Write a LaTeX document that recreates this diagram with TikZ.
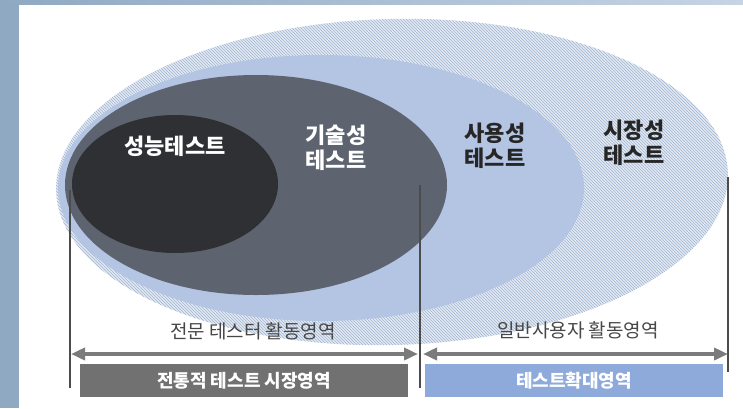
\documentclass[tikz,border=0pt]{standalone}
\usepackage{xcolor}
\usepackage{fontspec}
\newfontfamily\krfont{Noto Sans CJK KR}
\usepackage{tikz}
\usetikzlibrary{shapes.geometric, patterns, arrows.meta}

\definecolor{framedark}{HTML}{8FA9C3}
\definecolor{framelight}{HTML}{C6D4E4}
\definecolor{hatchbg}{HTML}{E2E9F3}
\definecolor{hatchline}{HTML}{A2B5D2}
\definecolor{usablue}{HTML}{B4C5E4}
\definecolor{techgray}{HTML}{5E6370}
\definecolor{perfblack}{HTML}{2F3034}
\definecolor{spangray}{HTML}{7B7B7B}
\definecolor{boxgray}{HTML}{717171}
\definecolor{boxblue}{HTML}{8EAADB}

\begin{document}
\begin{tikzpicture}[x = 1pt, y = -1pt]
            \tikzstyle{zone} = [ellipse, inner sep = 0pt, draw = none];
            \tikzstyle{inlabel} = [font = \krfont\bfseries\fontsize{22}{25}\selectfont, align = center, text = white];
            \tikzstyle{outlabel} = [inlabel, text = black!85];
            \tikzstyle{arealabel} = [font = \krfont\fontsize{19}{20}\selectfont, text = black!72];
            \tikzstyle{areabox} = [minimum height = 33pt, inner sep = 0pt, text = white, font = \krfont\bfseries\fontsize{18}{18}\selectfont];
            \tikzstyle{divider} = [draw = black!70, line width = 1.1pt];
            \tikzstyle{span} = [draw = spangray, line width = 3.5pt, {Triangle[length = 14pt, width = 12pt]}-{Triangle[length = 14pt, width = 12pt]}];

            \useasboundingbox (0, 0) rectangle (743, 408);
            \fill [framedark] (0, 0) rectangle (19, 408);
            \shade [left color = framedark, right color = framelight] (0, 0) rectangle (743, 4);

            \node [zone, minimum width = 672pt, minimum height = 326pt, rotate = 1.5,
                   preaction = {fill = hatchbg}, pattern = north west lines, pattern color = hatchline] (E4) at (392, 182) {};
            \node [zone, fill = usablue, minimum width = 526pt, minimum height = 266pt] (E3) at (321, 188) {};
            \node [zone, fill = techgray, minimum width = 382pt, minimum height = 220pt] (E2) at (256, 185) {};
            \node [zone, fill = perfblack, minimum width = 206pt, minimum height = 138pt] (E1) at (175, 184) {};

            \node [inlabel] (perf) at (175, 146) {성능테스트};
            \node [inlabel] (tech) at (336, 148) {기술성\\테스트};
            \node [outlabel] (usab) at (495, 146) {사용성\\테스트};
            \node [outlabel] (mkt) at (634, 143) {시장성\\테스트};

            \coordinate (L0) at (70, 190);
            \coordinate (L1) at (70, 388);
            \coordinate (M0) at (420, 185);
            \coordinate (M1) at (420, 388);
            \coordinate (R0) at (728, 177);
            \coordinate (R1) at (728, 372);

            \draw [divider] (L0) -- (L1);
            \draw [divider] (M0) -- (M1);
            \draw [divider] (R0) -- (R1);

            \node [arealabel] (T1) at (253, 331) {전문 테스터 활동영역};
            \node [arealabel] (T2) at (578, 330) {일반사용자 활동영역};

            \coordinate (A0) at (71, 354);
            \coordinate (A1) at (418, 354);
            \coordinate (A2) at (423, 354);
            \coordinate (A3) at (728, 354);

            \draw [span] (A0) -- (A1);
            \draw [span] (A2) -- (A3);

            \node [areabox, fill = boxgray, minimum width = 328pt] (B1) at (244, 380.5) {전통적 테스트 시장영역};
            \node [areabox, fill = boxblue, minimum width = 298pt] (B2) at (574, 380.5) {테스트확대영역};
        \end{tikzpicture}
\end{document}
